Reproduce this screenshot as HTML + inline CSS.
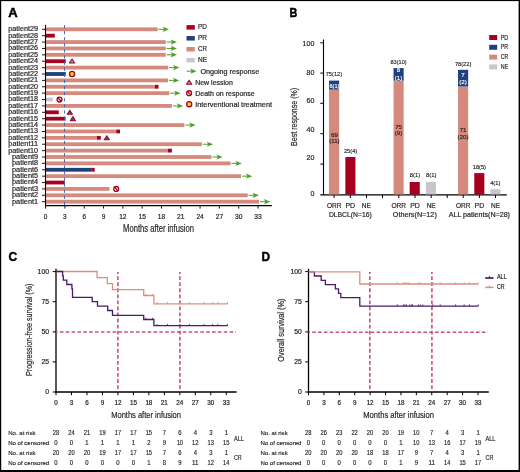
<!DOCTYPE html>
<html><head><meta charset="utf-8"><style>
html,body{margin:0;padding:0;background:#fff;}
body{width:520px;height:472px;overflow:hidden;}
svg{display:block;font-family:"Liberation Sans", sans-serif;will-change:transform;}
</style></head><body>
<svg width="520" height="472" viewBox="0 0 520 472">
<rect x="0" y="0" width="520" height="472" fill="#fff"/>
<text x="8.3" y="16.6" font-size="13" fill="#000" font-weight="bold" textLength="9.4" lengthAdjust="spacingAndGlyphs" stroke="#000" stroke-width="0.5">A</text>
<rect x="46" y="27.4" width="111.7" height="3.8" fill="#d48a7c"/>
<line x1="158.6" y1="29.3" x2="164.8" y2="29.3" stroke="#4f9e2c" stroke-width="1"/>
<path d="M169,29.3 L162.6,26.7 L164.1,29.3 L162.6,31.9 Z" fill="#4f9e2c"/>
<rect x="46" y="33.79" width="8.8" height="3.8" fill="#a8001f"/>
<rect x="46" y="40.17" width="119.7" height="3.8" fill="#d48a7c"/>
<line x1="166.6" y1="42.07" x2="172.8" y2="42.07" stroke="#4f9e2c" stroke-width="1"/>
<path d="M177,42.07 L170.6,39.47 L172.1,42.07 L170.6,44.67 Z" fill="#4f9e2c"/>
<rect x="46" y="46.55" width="119.7" height="3.8" fill="#d48a7c"/>
<line x1="166.6" y1="48.45" x2="172.8" y2="48.45" stroke="#4f9e2c" stroke-width="1"/>
<path d="M177,48.45 L170.6,45.85 L172.1,48.45 L170.6,51.05 Z" fill="#4f9e2c"/>
<rect x="46" y="52.94" width="119.7" height="3.8" fill="#d48a7c"/>
<line x1="166.6" y1="54.84" x2="172.8" y2="54.84" stroke="#4f9e2c" stroke-width="1"/>
<path d="M177,54.84 L170.6,52.24 L172.1,54.84 L170.6,57.44 Z" fill="#4f9e2c"/>
<rect x="46" y="59.32" width="19.8" height="3.8" fill="#a8001f"/>
<rect x="46" y="65.71" width="122.2" height="3.8" fill="#d48a7c"/>
<line x1="169.1" y1="67.61" x2="175.3" y2="67.61" stroke="#4f9e2c" stroke-width="1"/>
<path d="M179.5,67.61 L173.1,65.01 L174.6,67.61 L173.1,70.21 Z" fill="#4f9e2c"/>
<rect x="46" y="72.09" width="19.8" height="3.8" fill="#1f3f7d"/>
<rect x="46" y="78.48" width="122" height="3.8" fill="#d48a7c"/>
<line x1="168.9" y1="80.38" x2="175.1" y2="80.38" stroke="#4f9e2c" stroke-width="1"/>
<path d="M179.3,80.38 L172.9,77.78 L174.4,80.38 L172.9,82.98 Z" fill="#4f9e2c"/>
<rect x="46" y="84.86" width="108.8" height="3.8" fill="#d48a7c"/>
<rect x="154.8" y="84.86" width="3.7" height="3.8" fill="#a8001f"/>
<rect x="46" y="91.25" width="123.3" height="3.8" fill="#d48a7c"/>
<line x1="170.2" y1="93.15" x2="176.4" y2="93.15" stroke="#4f9e2c" stroke-width="1"/>
<path d="M180.6,93.15 L174.2,90.55 L175.7,93.15 L174.2,95.75 Z" fill="#4f9e2c"/>
<rect x="46" y="97.63" width="6.9" height="3.8" fill="#c6c6cc"/>
<rect x="46" y="104.02" width="125.9" height="3.8" fill="#d48a7c"/>
<line x1="172.8" y1="105.92" x2="179" y2="105.92" stroke="#4f9e2c" stroke-width="1"/>
<path d="M183.2,105.92 L176.8,103.32 L178.3,105.92 L176.8,108.52 Z" fill="#4f9e2c"/>
<rect x="46" y="110.4" width="12.8" height="3.8" fill="#a8001f"/>
<rect x="46" y="116.79" width="19.6" height="3.8" fill="#a8001f"/>
<rect x="46" y="123.17" width="138.4" height="3.8" fill="#d48a7c"/>
<line x1="185.3" y1="125.07" x2="191.5" y2="125.07" stroke="#4f9e2c" stroke-width="1"/>
<path d="M195.7,125.07 L189.3,122.47 L190.8,125.07 L189.3,127.67 Z" fill="#4f9e2c"/>
<rect x="46" y="129.56" width="70.2" height="3.8" fill="#d48a7c"/>
<rect x="116.2" y="129.56" width="3.8" height="3.8" fill="#a8001f"/>
<rect x="46" y="135.94" width="50.9" height="3.8" fill="#d48a7c"/>
<rect x="96.9" y="135.94" width="3.9" height="3.8" fill="#a8001f"/>
<rect x="46" y="142.33" width="155.9" height="3.8" fill="#d48a7c"/>
<line x1="202.8" y1="144.23" x2="209" y2="144.23" stroke="#4f9e2c" stroke-width="1"/>
<path d="M213.2,144.23 L206.8,141.63 L208.3,144.23 L206.8,146.83 Z" fill="#4f9e2c"/>
<rect x="46" y="148.72" width="121.8" height="3.8" fill="#d48a7c"/>
<rect x="167.8" y="148.72" width="4.1" height="3.8" fill="#a8001f"/>
<rect x="46" y="155.1" width="165.4" height="3.8" fill="#d48a7c"/>
<line x1="212.3" y1="157" x2="218.5" y2="157" stroke="#4f9e2c" stroke-width="1"/>
<path d="M222.7,157 L216.3,154.4 L217.8,157 L216.3,159.6 Z" fill="#4f9e2c"/>
<rect x="46" y="161.49" width="184.5" height="3.8" fill="#d48a7c"/>
<line x1="231.4" y1="163.39" x2="237.6" y2="163.39" stroke="#4f9e2c" stroke-width="1"/>
<path d="M241.8,163.39 L235.4,160.79 L236.9,163.39 L235.4,165.99 Z" fill="#4f9e2c"/>
<rect x="46" y="167.87" width="45.2" height="3.8" fill="#1f3f7d"/>
<rect x="91.2" y="167.87" width="3.5" height="3.8" fill="#a8001f"/>
<rect x="46" y="174.25" width="195" height="3.8" fill="#d48a7c"/>
<line x1="241.9" y1="176.16" x2="248.1" y2="176.16" stroke="#4f9e2c" stroke-width="1"/>
<path d="M252.3,176.16 L245.9,173.56 L247.4,176.16 L245.9,178.75 Z" fill="#4f9e2c"/>
<rect x="46" y="180.64" width="18.8" height="3.8" fill="#a8001f"/>
<rect x="46" y="187.03" width="63.5" height="3.8" fill="#d48a7c"/>
<rect x="46" y="193.41" width="201.7" height="3.8" fill="#d48a7c"/>
<line x1="248.6" y1="195.31" x2="254.8" y2="195.31" stroke="#4f9e2c" stroke-width="1"/>
<path d="M259,195.31 L252.6,192.71 L254.1,195.31 L252.6,197.91 Z" fill="#4f9e2c"/>
<rect x="46" y="199.79" width="213" height="3.8" fill="#d48a7c"/>
<line x1="259.9" y1="201.69" x2="266.1" y2="201.69" stroke="#4f9e2c" stroke-width="1"/>
<path d="M270.3,201.69 L263.9,199.09 L265.4,201.69 L263.9,204.29 Z" fill="#4f9e2c"/>
<line x1="64.5" y1="25" x2="64.5" y2="205.2" stroke="#3d66a8" stroke-width="0.95" stroke-dasharray="3.1 3.0"/>
<path d="M72.05,58.97 L74.7,62.97 L69.4,62.97 Z" fill="#5ab8f0" stroke="#a8001f" stroke-width="1.1" stroke-linejoin="round"/>
<circle cx="72.05" cy="74" r="2.55" fill="#f6d21c" stroke="#a8001f" stroke-width="1.3"/>
<circle cx="59.5" cy="99.53" r="2.45" fill="none" stroke="#a8001f" stroke-width="1.3"/>
<path d="M57.8,97.83 L61.2,101.23" stroke="#a8001f" stroke-width="1.3"/>
<path d="M69.8,110.2 L72.4,114.3 L67.2,114.3 Z" fill="#2a62a8" stroke="#a8001f" stroke-width="1.05" stroke-linejoin="round"/>
<path d="M72.9,116.59 L75.5,120.69 L70.3,120.69 Z" fill="#2a62a8" stroke="#a8001f" stroke-width="1.05" stroke-linejoin="round"/>
<path d="M106.8,135.75 L109.4,139.84 L104.2,139.84 Z" fill="#2a62a8" stroke="#a8001f" stroke-width="1.05" stroke-linejoin="round"/>
<circle cx="116.2" cy="188.93" r="2.45" fill="none" stroke="#a8001f" stroke-width="1.3"/>
<path d="M114.5,187.23 L117.9,190.62" stroke="#a8001f" stroke-width="1.3"/>
<line x1="45.5" y1="24.8" x2="45.5" y2="206" stroke="#000" stroke-width="1.1"/>
<line x1="45" y1="205.6" x2="271.8" y2="205.6" stroke="#000" stroke-width="1.1"/>
<line x1="42" y1="29.3" x2="45.5" y2="29.3" stroke="#000" stroke-width="0.9"/>
<text x="38.1" y="31.25" font-size="6.4" fill="#231f20" stroke="#231f20" stroke-width="0.18" text-anchor="end" textLength="29.8" lengthAdjust="spacingAndGlyphs">patient29</text>
<line x1="42" y1="35.69" x2="45.5" y2="35.69" stroke="#000" stroke-width="0.9"/>
<text x="38.1" y="37.64" font-size="6.4" fill="#231f20" stroke="#231f20" stroke-width="0.18" text-anchor="end" textLength="29.8" lengthAdjust="spacingAndGlyphs">patient28</text>
<line x1="42" y1="42.07" x2="45.5" y2="42.07" stroke="#000" stroke-width="0.9"/>
<text x="38.1" y="44.02" font-size="6.4" fill="#231f20" stroke="#231f20" stroke-width="0.18" text-anchor="end" textLength="29.8" lengthAdjust="spacingAndGlyphs">patient27</text>
<line x1="42" y1="48.45" x2="45.5" y2="48.45" stroke="#000" stroke-width="0.9"/>
<text x="38.1" y="50.41" font-size="6.4" fill="#231f20" stroke="#231f20" stroke-width="0.18" text-anchor="end" textLength="29.8" lengthAdjust="spacingAndGlyphs">patient26</text>
<line x1="42" y1="54.84" x2="45.5" y2="54.84" stroke="#000" stroke-width="0.9"/>
<text x="38.1" y="56.79" font-size="6.4" fill="#231f20" stroke="#231f20" stroke-width="0.18" text-anchor="end" textLength="29.8" lengthAdjust="spacingAndGlyphs">patient25</text>
<line x1="42" y1="61.22" x2="45.5" y2="61.22" stroke="#000" stroke-width="0.9"/>
<text x="38.1" y="63.17" font-size="6.4" fill="#231f20" stroke="#231f20" stroke-width="0.18" text-anchor="end" textLength="29.8" lengthAdjust="spacingAndGlyphs">patient24</text>
<line x1="42" y1="67.61" x2="45.5" y2="67.61" stroke="#000" stroke-width="0.9"/>
<text x="38.1" y="69.56" font-size="6.4" fill="#231f20" stroke="#231f20" stroke-width="0.18" text-anchor="end" textLength="29.8" lengthAdjust="spacingAndGlyphs">patient23</text>
<line x1="42" y1="74" x2="45.5" y2="74" stroke="#000" stroke-width="0.9"/>
<text x="38.1" y="75.95" font-size="6.4" fill="#231f20" stroke="#231f20" stroke-width="0.18" text-anchor="end" textLength="29.8" lengthAdjust="spacingAndGlyphs">patient22</text>
<line x1="42" y1="80.38" x2="45.5" y2="80.38" stroke="#000" stroke-width="0.9"/>
<text x="38.1" y="82.33" font-size="6.4" fill="#231f20" stroke="#231f20" stroke-width="0.18" text-anchor="end" textLength="29.8" lengthAdjust="spacingAndGlyphs">patient21</text>
<line x1="42" y1="86.77" x2="45.5" y2="86.77" stroke="#000" stroke-width="0.9"/>
<text x="38.1" y="88.72" font-size="6.4" fill="#231f20" stroke="#231f20" stroke-width="0.18" text-anchor="end" textLength="29.8" lengthAdjust="spacingAndGlyphs">patient20</text>
<line x1="42" y1="93.15" x2="45.5" y2="93.15" stroke="#000" stroke-width="0.9"/>
<text x="38.1" y="95.1" font-size="6.4" fill="#231f20" stroke="#231f20" stroke-width="0.18" text-anchor="end" textLength="29.8" lengthAdjust="spacingAndGlyphs">patient19</text>
<line x1="42" y1="99.53" x2="45.5" y2="99.53" stroke="#000" stroke-width="0.9"/>
<text x="38.1" y="101.48" font-size="6.4" fill="#231f20" stroke="#231f20" stroke-width="0.18" text-anchor="end" textLength="29.8" lengthAdjust="spacingAndGlyphs">patient18</text>
<line x1="42" y1="105.92" x2="45.5" y2="105.92" stroke="#000" stroke-width="0.9"/>
<text x="38.1" y="107.87" font-size="6.4" fill="#231f20" stroke="#231f20" stroke-width="0.18" text-anchor="end" textLength="29.8" lengthAdjust="spacingAndGlyphs">patient17</text>
<line x1="42" y1="112.3" x2="45.5" y2="112.3" stroke="#000" stroke-width="0.9"/>
<text x="38.1" y="114.25" font-size="6.4" fill="#231f20" stroke="#231f20" stroke-width="0.18" text-anchor="end" textLength="29.8" lengthAdjust="spacingAndGlyphs">patient16</text>
<line x1="42" y1="118.69" x2="45.5" y2="118.69" stroke="#000" stroke-width="0.9"/>
<text x="38.1" y="120.64" font-size="6.4" fill="#231f20" stroke="#231f20" stroke-width="0.18" text-anchor="end" textLength="29.8" lengthAdjust="spacingAndGlyphs">patient15</text>
<line x1="42" y1="125.07" x2="45.5" y2="125.07" stroke="#000" stroke-width="0.9"/>
<text x="38.1" y="127.02" font-size="6.4" fill="#231f20" stroke="#231f20" stroke-width="0.18" text-anchor="end" textLength="29.8" lengthAdjust="spacingAndGlyphs">patient14</text>
<line x1="42" y1="131.46" x2="45.5" y2="131.46" stroke="#000" stroke-width="0.9"/>
<text x="38.1" y="133.41" font-size="6.4" fill="#231f20" stroke="#231f20" stroke-width="0.18" text-anchor="end" textLength="29.8" lengthAdjust="spacingAndGlyphs">patient13</text>
<line x1="42" y1="137.84" x2="45.5" y2="137.84" stroke="#000" stroke-width="0.9"/>
<text x="38.1" y="139.79" font-size="6.4" fill="#231f20" stroke="#231f20" stroke-width="0.18" text-anchor="end" textLength="29.8" lengthAdjust="spacingAndGlyphs">patient12</text>
<line x1="42" y1="144.23" x2="45.5" y2="144.23" stroke="#000" stroke-width="0.9"/>
<text x="38.1" y="146.18" font-size="6.4" fill="#231f20" stroke="#231f20" stroke-width="0.18" text-anchor="end" textLength="29.8" lengthAdjust="spacingAndGlyphs">patient11</text>
<line x1="42" y1="150.62" x2="45.5" y2="150.62" stroke="#000" stroke-width="0.9"/>
<text x="38.1" y="152.56" font-size="6.4" fill="#231f20" stroke="#231f20" stroke-width="0.18" text-anchor="end" textLength="29.8" lengthAdjust="spacingAndGlyphs">patient10</text>
<line x1="42" y1="157" x2="45.5" y2="157" stroke="#000" stroke-width="0.9"/>
<text x="38.1" y="158.95" font-size="6.4" fill="#231f20" stroke="#231f20" stroke-width="0.18" text-anchor="end" textLength="26.1" lengthAdjust="spacingAndGlyphs">patient9</text>
<line x1="42" y1="163.39" x2="45.5" y2="163.39" stroke="#000" stroke-width="0.9"/>
<text x="38.1" y="165.34" font-size="6.4" fill="#231f20" stroke="#231f20" stroke-width="0.18" text-anchor="end" textLength="26.1" lengthAdjust="spacingAndGlyphs">patient8</text>
<line x1="42" y1="169.77" x2="45.5" y2="169.77" stroke="#000" stroke-width="0.9"/>
<text x="38.1" y="171.72" font-size="6.4" fill="#231f20" stroke="#231f20" stroke-width="0.18" text-anchor="end" textLength="26.1" lengthAdjust="spacingAndGlyphs">patient6</text>
<line x1="42" y1="176.16" x2="45.5" y2="176.16" stroke="#000" stroke-width="0.9"/>
<text x="38.1" y="178.1" font-size="6.4" fill="#231f20" stroke="#231f20" stroke-width="0.18" text-anchor="end" textLength="26.1" lengthAdjust="spacingAndGlyphs">patient5</text>
<line x1="42" y1="182.54" x2="45.5" y2="182.54" stroke="#000" stroke-width="0.9"/>
<text x="38.1" y="184.49" font-size="6.4" fill="#231f20" stroke="#231f20" stroke-width="0.18" text-anchor="end" textLength="26.1" lengthAdjust="spacingAndGlyphs">patient4</text>
<line x1="42" y1="188.93" x2="45.5" y2="188.93" stroke="#000" stroke-width="0.9"/>
<text x="38.1" y="190.88" font-size="6.4" fill="#231f20" stroke="#231f20" stroke-width="0.18" text-anchor="end" textLength="26.1" lengthAdjust="spacingAndGlyphs">patient3</text>
<line x1="42" y1="195.31" x2="45.5" y2="195.31" stroke="#000" stroke-width="0.9"/>
<text x="38.1" y="197.26" font-size="6.4" fill="#231f20" stroke="#231f20" stroke-width="0.18" text-anchor="end" textLength="26.1" lengthAdjust="spacingAndGlyphs">patient2</text>
<line x1="42" y1="201.69" x2="45.5" y2="201.69" stroke="#000" stroke-width="0.9"/>
<text x="38.1" y="203.64" font-size="6.4" fill="#231f20" stroke="#231f20" stroke-width="0.18" text-anchor="end" textLength="26.1" lengthAdjust="spacingAndGlyphs">patient1</text>
<line x1="45.6" y1="205.6" x2="45.6" y2="208.6" stroke="#000" stroke-width="0.9"/>
<text x="45.6" y="218.6" font-size="7.1" fill="#231f20" stroke="#231f20" stroke-width="0.2" text-anchor="middle" textLength="3.6" lengthAdjust="spacingAndGlyphs">0</text>
<line x1="64.91" y1="205.6" x2="64.91" y2="208.6" stroke="#000" stroke-width="0.9"/>
<text x="64.91" y="218.6" font-size="7.1" fill="#231f20" stroke="#231f20" stroke-width="0.2" text-anchor="middle" textLength="3.6" lengthAdjust="spacingAndGlyphs">3</text>
<line x1="84.22" y1="205.6" x2="84.22" y2="208.6" stroke="#000" stroke-width="0.9"/>
<text x="84.22" y="218.6" font-size="7.1" fill="#231f20" stroke="#231f20" stroke-width="0.2" text-anchor="middle" textLength="3.6" lengthAdjust="spacingAndGlyphs">6</text>
<line x1="103.53" y1="205.6" x2="103.53" y2="208.6" stroke="#000" stroke-width="0.9"/>
<text x="103.53" y="218.6" font-size="7.1" fill="#231f20" stroke="#231f20" stroke-width="0.2" text-anchor="middle" textLength="3.6" lengthAdjust="spacingAndGlyphs">9</text>
<line x1="122.84" y1="205.6" x2="122.84" y2="208.6" stroke="#000" stroke-width="0.9"/>
<text x="122.84" y="218.6" font-size="7.1" fill="#231f20" stroke="#231f20" stroke-width="0.2" text-anchor="middle" textLength="7.4" lengthAdjust="spacingAndGlyphs">12</text>
<line x1="142.15" y1="205.6" x2="142.15" y2="208.6" stroke="#000" stroke-width="0.9"/>
<text x="142.15" y="218.6" font-size="7.1" fill="#231f20" stroke="#231f20" stroke-width="0.2" text-anchor="middle" textLength="7.4" lengthAdjust="spacingAndGlyphs">15</text>
<line x1="161.46" y1="205.6" x2="161.46" y2="208.6" stroke="#000" stroke-width="0.9"/>
<text x="161.46" y="218.6" font-size="7.1" fill="#231f20" stroke="#231f20" stroke-width="0.2" text-anchor="middle" textLength="7.4" lengthAdjust="spacingAndGlyphs">18</text>
<line x1="180.77" y1="205.6" x2="180.77" y2="208.6" stroke="#000" stroke-width="0.9"/>
<text x="180.77" y="218.6" font-size="7.1" fill="#231f20" stroke="#231f20" stroke-width="0.2" text-anchor="middle" textLength="7.4" lengthAdjust="spacingAndGlyphs">21</text>
<line x1="200.08" y1="205.6" x2="200.08" y2="208.6" stroke="#000" stroke-width="0.9"/>
<text x="200.08" y="218.6" font-size="7.1" fill="#231f20" stroke="#231f20" stroke-width="0.2" text-anchor="middle" textLength="7.4" lengthAdjust="spacingAndGlyphs">24</text>
<line x1="219.39" y1="205.6" x2="219.39" y2="208.6" stroke="#000" stroke-width="0.9"/>
<text x="219.39" y="218.6" font-size="7.1" fill="#231f20" stroke="#231f20" stroke-width="0.2" text-anchor="middle" textLength="7.4" lengthAdjust="spacingAndGlyphs">27</text>
<line x1="238.7" y1="205.6" x2="238.7" y2="208.6" stroke="#000" stroke-width="0.9"/>
<text x="238.7" y="218.6" font-size="7.1" fill="#231f20" stroke="#231f20" stroke-width="0.2" text-anchor="middle" textLength="7.4" lengthAdjust="spacingAndGlyphs">30</text>
<line x1="258.01" y1="205.6" x2="258.01" y2="208.6" stroke="#000" stroke-width="0.9"/>
<text x="258.01" y="218.6" font-size="7.1" fill="#231f20" stroke="#231f20" stroke-width="0.2" text-anchor="middle" textLength="7.4" lengthAdjust="spacingAndGlyphs">33</text>
<text x="123.1" y="231.7" font-size="10.4" fill="#231f20" stroke="#231f20" stroke-width="0.2" textLength="70.9" lengthAdjust="spacingAndGlyphs">Months after infusion</text>
<rect x="186.5" y="25.1" width="8.3" height="4.5" fill="#a8001f"/>
<text x="198" y="29.45" font-size="7.2" fill="#231f20" stroke="#231f20" stroke-width="0.2" textLength="9" lengthAdjust="spacingAndGlyphs">PD</text>
<rect x="186.5" y="36.05" width="8.3" height="4.5" fill="#1f3f7d"/>
<text x="198" y="40.4" font-size="7.2" fill="#231f20" stroke="#231f20" stroke-width="0.2" textLength="9" lengthAdjust="spacingAndGlyphs">PR</text>
<rect x="186.5" y="47" width="8.3" height="4.5" fill="#d48a7c"/>
<text x="198" y="51.35" font-size="7.2" fill="#231f20" stroke="#231f20" stroke-width="0.2" textLength="9" lengthAdjust="spacingAndGlyphs">CR</text>
<rect x="186.5" y="57.95" width="8.3" height="4.5" fill="#c6c6cc"/>
<text x="198" y="62.3" font-size="7.2" fill="#231f20" stroke="#231f20" stroke-width="0.2" textLength="9" lengthAdjust="spacingAndGlyphs">NE</text>
<line x1="186.6" y1="71.2" x2="192.4" y2="71.2" stroke="#4f9e2c" stroke-width="1"/>
<path d="M196.6,71.2 L190.2,68.6 L191.7,71.2 L190.2,73.8 Z" fill="#4f9e2c"/>
<text x="200.4" y="73.6" font-size="7.2" fill="#231f20" stroke="#231f20" stroke-width="0.2" textLength="58.8" lengthAdjust="spacingAndGlyphs">Ongoing response</text>
<path d="M189.1,80.2 L191.75,84.2 L186.45,84.2 Z" fill="#5ab8f0" stroke="#a8001f" stroke-width="1.1" stroke-linejoin="round"/>
<text x="195.2" y="84.6" font-size="7.2" fill="#231f20" stroke="#231f20" stroke-width="0.2" textLength="37.6" lengthAdjust="spacingAndGlyphs">New lession</text>
<circle cx="189.1" cy="93.2" r="2.45" fill="none" stroke="#a8001f" stroke-width="1.3"/>
<path d="M187.4,91.5 L190.8,94.9" stroke="#a8001f" stroke-width="1.3"/>
<text x="195.2" y="95.6" font-size="7.2" fill="#231f20" stroke="#231f20" stroke-width="0.2" textLength="59.5" lengthAdjust="spacingAndGlyphs">Death on response</text>
<circle cx="189.2" cy="104.2" r="2.55" fill="#f6d21c" stroke="#a8001f" stroke-width="1.3"/>
<text x="195.2" y="106.6" font-size="7.2" fill="#231f20" stroke="#231f20" stroke-width="0.2" textLength="76.8" lengthAdjust="spacingAndGlyphs">Interventional treatment</text>
<text x="289.6" y="16.7" font-size="13" fill="#000" font-weight="bold" textLength="7.8" lengthAdjust="spacingAndGlyphs" stroke="#000" stroke-width="0.5">B</text>
<line x1="323.5" y1="39.5" x2="323.5" y2="195" stroke="#000" stroke-width="1.1"/>
<line x1="320.3" y1="194.85" x2="506.8" y2="194.85" stroke="#000" stroke-width="1.1"/>
<line x1="320.3" y1="42.8" x2="323.5" y2="42.8" stroke="#000" stroke-width="1"/>
<line x1="320.3" y1="73.1" x2="323.5" y2="73.1" stroke="#000" stroke-width="1"/>
<line x1="320.3" y1="103.3" x2="323.5" y2="103.3" stroke="#000" stroke-width="1"/>
<line x1="320.3" y1="133.7" x2="323.5" y2="133.7" stroke="#000" stroke-width="1"/>
<line x1="320.3" y1="164.1" x2="323.5" y2="164.1" stroke="#000" stroke-width="1"/>
<text x="314.4" y="46.25" font-size="7.6" fill="#231f20" stroke="#231f20" stroke-width="0.2" text-anchor="end" textLength="11.85" lengthAdjust="spacingAndGlyphs">100</text>
<text x="314.4" y="74.75" font-size="7.6" fill="#231f20" stroke="#231f20" stroke-width="0.2" text-anchor="end" textLength="7.9" lengthAdjust="spacingAndGlyphs">80</text>
<text x="314.4" y="103.05" font-size="7.6" fill="#231f20" stroke="#231f20" stroke-width="0.2" text-anchor="end" textLength="7.9" lengthAdjust="spacingAndGlyphs">60</text>
<text x="314.4" y="131.65" font-size="7.6" fill="#231f20" stroke="#231f20" stroke-width="0.2" text-anchor="end" textLength="7.9" lengthAdjust="spacingAndGlyphs">40</text>
<text x="314.4" y="159.85" font-size="7.6" fill="#231f20" stroke="#231f20" stroke-width="0.2" text-anchor="end" textLength="7.9" lengthAdjust="spacingAndGlyphs">20</text>
<text x="314.4" y="195.55" font-size="7.6" fill="#231f20" stroke="#231f20" stroke-width="0.2" text-anchor="end" textLength="3.95" lengthAdjust="spacingAndGlyphs">0</text>
<text x="0" y="0" font-size="9.4" fill="#231f20" stroke="#231f20" stroke-width="0.2" text-anchor="middle" textLength="58.2" lengthAdjust="spacingAndGlyphs" transform="translate(297.1,116.9) rotate(-90)">Best response (%)</text>
<line x1="334.1" y1="194.8" x2="334.1" y2="198" stroke="#000" stroke-width="1"/>
<line x1="350.3" y1="194.8" x2="350.3" y2="198" stroke="#000" stroke-width="1"/>
<line x1="366.5" y1="194.8" x2="366.5" y2="198" stroke="#000" stroke-width="1"/>
<line x1="382.5" y1="194.8" x2="382.5" y2="198" stroke="#000" stroke-width="1"/>
<line x1="398.8" y1="194.8" x2="398.8" y2="198" stroke="#000" stroke-width="1"/>
<line x1="415" y1="194.8" x2="415" y2="198" stroke="#000" stroke-width="1"/>
<line x1="431.2" y1="194.8" x2="431.2" y2="198" stroke="#000" stroke-width="1"/>
<line x1="447.2" y1="194.8" x2="447.2" y2="198" stroke="#000" stroke-width="1"/>
<line x1="463.2" y1="194.8" x2="463.2" y2="198" stroke="#000" stroke-width="1"/>
<line x1="479.4" y1="194.8" x2="479.4" y2="198" stroke="#000" stroke-width="1"/>
<line x1="495.5" y1="194.8" x2="495.5" y2="198" stroke="#000" stroke-width="1"/>
<rect x="329.05" y="89.6" width="10.1" height="104.8" fill="#d48a7c"/>
<rect x="329.05" y="80.6" width="10.1" height="9" fill="#1f3f7d"/>
<rect x="345.35" y="157" width="10.1" height="37.4" fill="#a8001f"/>
<rect x="393.55" y="80.6" width="10.1" height="113.8" fill="#d48a7c"/>
<rect x="393.55" y="68.1" width="10.1" height="12.5" fill="#1f3f7d"/>
<rect x="409.65" y="182" width="10.1" height="12.4" fill="#a8001f"/>
<rect x="425.85" y="182" width="10.1" height="12.4" fill="#c6c6cc"/>
<rect x="458.05" y="86.4" width="10.1" height="108" fill="#d48a7c"/>
<rect x="458.05" y="69.8" width="10.1" height="16.6" fill="#1f3f7d"/>
<rect x="474.25" y="173.1" width="10.1" height="21.3" fill="#a8001f"/>
<rect x="490.35" y="189.2" width="10.1" height="5.2" fill="#c6c6cc"/>
<text x="333.9" y="76.23" font-size="6.2" fill="#231f20" stroke="#231f20" stroke-width="0.15" text-anchor="middle" textLength="16.4" lengthAdjust="spacingAndGlyphs">75(12)</text>
<text x="334.4" y="87.73" font-size="6.2" fill="#fff" stroke="#fff" stroke-width="0.15" text-anchor="middle" textLength="10" lengthAdjust="spacingAndGlyphs">6(1)</text>
<text x="334.4" y="136.83" font-size="6.2" fill="#231f20" stroke="#231f20" stroke-width="0.15" text-anchor="middle">69</text>
<text x="334.4" y="142.83" font-size="6.2" fill="#231f20" stroke="#231f20" stroke-width="0.15" text-anchor="middle">(11)</text>
<text x="350.6" y="152.93" font-size="6.2" fill="#231f20" stroke="#231f20" stroke-width="0.15" text-anchor="middle" textLength="13.4" lengthAdjust="spacingAndGlyphs">25(4)</text>
<text x="398.6" y="63.63" font-size="6.2" fill="#231f20" stroke="#231f20" stroke-width="0.15" text-anchor="middle" textLength="16.2" lengthAdjust="spacingAndGlyphs">83(10)</text>
<text x="398.6" y="72.23" font-size="6.2" fill="#fff" stroke="#fff" stroke-width="0.15" text-anchor="middle">8</text>
<text x="398.6" y="79.63" font-size="6.2" fill="#fff" stroke="#fff" stroke-width="0.15" text-anchor="middle">(1)</text>
<text x="398.6" y="128.53" font-size="6.2" fill="#231f20" stroke="#231f20" stroke-width="0.15" text-anchor="middle">75</text>
<text x="398.6" y="135.03" font-size="6.2" fill="#231f20" stroke="#231f20" stroke-width="0.15" text-anchor="middle">(9)</text>
<text x="415" y="177.23" font-size="6.2" fill="#231f20" stroke="#231f20" stroke-width="0.15" text-anchor="middle" textLength="10.4" lengthAdjust="spacingAndGlyphs">8(1)</text>
<text x="431.2" y="177.23" font-size="6.2" fill="#231f20" stroke="#231f20" stroke-width="0.15" text-anchor="middle" textLength="10.4" lengthAdjust="spacingAndGlyphs">8(1)</text>
<text x="463.1" y="65.73" font-size="6.2" fill="#231f20" stroke="#231f20" stroke-width="0.15" text-anchor="middle" textLength="16.4" lengthAdjust="spacingAndGlyphs">78(22)</text>
<text x="463.1" y="76.63" font-size="6.2" fill="#fff" stroke="#fff" stroke-width="0.15" text-anchor="middle">7</text>
<text x="463.1" y="83.93" font-size="6.2" fill="#fff" stroke="#fff" stroke-width="0.15" text-anchor="middle">(2)</text>
<text x="463.1" y="131.53" font-size="6.2" fill="#231f20" stroke="#231f20" stroke-width="0.15" text-anchor="middle">71</text>
<text x="463.1" y="138.73" font-size="6.2" fill="#231f20" stroke="#231f20" stroke-width="0.15" text-anchor="middle">(20)</text>
<text x="479.4" y="168.53" font-size="6.2" fill="#231f20" stroke="#231f20" stroke-width="0.15" text-anchor="middle" textLength="13.2" lengthAdjust="spacingAndGlyphs">18(5)</text>
<text x="495.3" y="185.13" font-size="6.2" fill="#231f20" stroke="#231f20" stroke-width="0.15" text-anchor="middle" textLength="10.2" lengthAdjust="spacingAndGlyphs">4(1)</text>
<text x="334.2" y="207.8" font-size="7.6" fill="#231f20" stroke="#231f20" stroke-width="0.2" text-anchor="middle" textLength="14.6" lengthAdjust="spacingAndGlyphs">ORR</text>
<text x="350.3" y="207.8" font-size="7.6" fill="#231f20" stroke="#231f20" stroke-width="0.2" text-anchor="middle" textLength="9.7" lengthAdjust="spacingAndGlyphs">PD</text>
<text x="366.3" y="207.8" font-size="7.6" fill="#231f20" stroke="#231f20" stroke-width="0.2" text-anchor="middle" textLength="9" lengthAdjust="spacingAndGlyphs">NE</text>
<text x="398.8" y="207.8" font-size="7.6" fill="#231f20" stroke="#231f20" stroke-width="0.2" text-anchor="middle" textLength="14.6" lengthAdjust="spacingAndGlyphs">ORR</text>
<text x="415" y="207.8" font-size="7.6" fill="#231f20" stroke="#231f20" stroke-width="0.2" text-anchor="middle" textLength="9.7" lengthAdjust="spacingAndGlyphs">PD</text>
<text x="431.2" y="207.8" font-size="7.6" fill="#231f20" stroke="#231f20" stroke-width="0.2" text-anchor="middle" textLength="9" lengthAdjust="spacingAndGlyphs">NE</text>
<text x="463.2" y="207.8" font-size="7.6" fill="#231f20" stroke="#231f20" stroke-width="0.2" text-anchor="middle" textLength="14.6" lengthAdjust="spacingAndGlyphs">ORR</text>
<text x="479.4" y="207.8" font-size="7.6" fill="#231f20" stroke="#231f20" stroke-width="0.2" text-anchor="middle" textLength="9.7" lengthAdjust="spacingAndGlyphs">PD</text>
<text x="495.5" y="207.8" font-size="7.6" fill="#231f20" stroke="#231f20" stroke-width="0.2" text-anchor="middle" textLength="9" lengthAdjust="spacingAndGlyphs">NE</text>
<text x="328.9" y="216.8" font-size="7.5" fill="#231f20" stroke="#231f20" stroke-width="0.2" textLength="42.9" lengthAdjust="spacingAndGlyphs">DLBCL(N=16)</text>
<text x="392.8" y="216.8" font-size="7.5" fill="#231f20" stroke="#231f20" stroke-width="0.2" textLength="44" lengthAdjust="spacingAndGlyphs">Others(N=12)</text>
<text x="448.7" y="216.8" font-size="7.5" fill="#231f20" stroke="#231f20" stroke-width="0.2" textLength="61.3" lengthAdjust="spacingAndGlyphs">ALL patients(N=28)</text>
<rect x="489.2" y="35" width="8" height="5" fill="#a8001f"/>
<text x="500.8" y="39.5" font-size="7" fill="#231f20" stroke="#231f20" stroke-width="0.2" textLength="7.4" lengthAdjust="spacingAndGlyphs">PD</text>
<rect x="489.2" y="44.8" width="8" height="5" fill="#1f3f7d"/>
<text x="500.8" y="49.3" font-size="7" fill="#231f20" stroke="#231f20" stroke-width="0.2" textLength="7.4" lengthAdjust="spacingAndGlyphs">PR</text>
<rect x="489.2" y="54.6" width="8" height="5" fill="#d48a7c"/>
<text x="500.8" y="59.1" font-size="7" fill="#231f20" stroke="#231f20" stroke-width="0.2" textLength="7.4" lengthAdjust="spacingAndGlyphs">CR</text>
<rect x="489.2" y="64.4" width="8" height="5" fill="#c6c6cc"/>
<text x="500.8" y="68.9" font-size="7" fill="#231f20" stroke="#231f20" stroke-width="0.2" textLength="7.4" lengthAdjust="spacingAndGlyphs">NE</text>
<text x="8.4" y="261.3" font-size="13" fill="#000" font-weight="bold" textLength="8.6" lengthAdjust="spacingAndGlyphs" stroke="#000" stroke-width="0.5">C</text>
<line x1="56" y1="268.8" x2="56" y2="392.6" stroke="#000" stroke-width="1.3"/>
<line x1="55.4" y1="392" x2="236.6" y2="392" stroke="#000" stroke-width="1.3"/>
<line x1="52.7" y1="271.6" x2="56" y2="271.6" stroke="#000" stroke-width="1"/>
<text x="49" y="274" font-size="6.8" fill="#231f20" stroke="#231f20" stroke-width="0.2" text-anchor="end" textLength="11.4" lengthAdjust="spacingAndGlyphs">100</text>
<line x1="52.7" y1="301.7" x2="56" y2="301.7" stroke="#000" stroke-width="1"/>
<text x="49" y="304.1" font-size="6.8" fill="#231f20" stroke="#231f20" stroke-width="0.2" text-anchor="end" textLength="7.6" lengthAdjust="spacingAndGlyphs">75</text>
<line x1="52.7" y1="331.9" x2="56" y2="331.9" stroke="#000" stroke-width="1"/>
<text x="49" y="334.3" font-size="6.8" fill="#231f20" stroke="#231f20" stroke-width="0.2" text-anchor="end" textLength="7.6" lengthAdjust="spacingAndGlyphs">50</text>
<line x1="52.7" y1="361.9" x2="56" y2="361.9" stroke="#000" stroke-width="1"/>
<text x="49" y="364.3" font-size="6.8" fill="#231f20" stroke="#231f20" stroke-width="0.2" text-anchor="end" textLength="7.6" lengthAdjust="spacingAndGlyphs">25</text>
<line x1="52.7" y1="392" x2="56" y2="392" stroke="#000" stroke-width="1"/>
<text x="49" y="394.4" font-size="6.8" fill="#231f20" stroke="#231f20" stroke-width="0.2" text-anchor="end" textLength="3.8" lengthAdjust="spacingAndGlyphs">0</text>
<line x1="56" y1="392" x2="56" y2="395.2" stroke="#000" stroke-width="1"/>
<text x="56" y="404.6" font-size="6.3" fill="#231f20" stroke="#231f20" stroke-width="0.2" text-anchor="middle" textLength="3.5" lengthAdjust="spacingAndGlyphs">0</text>
<line x1="71.48" y1="392" x2="71.48" y2="395.2" stroke="#000" stroke-width="1"/>
<text x="71.48" y="404.6" font-size="6.3" fill="#231f20" stroke="#231f20" stroke-width="0.2" text-anchor="middle" textLength="3.5" lengthAdjust="spacingAndGlyphs">3</text>
<line x1="86.96" y1="392" x2="86.96" y2="395.2" stroke="#000" stroke-width="1"/>
<text x="86.96" y="404.6" font-size="6.3" fill="#231f20" stroke="#231f20" stroke-width="0.2" text-anchor="middle" textLength="3.5" lengthAdjust="spacingAndGlyphs">6</text>
<line x1="102.44" y1="392" x2="102.44" y2="395.2" stroke="#000" stroke-width="1"/>
<text x="102.44" y="404.6" font-size="6.3" fill="#231f20" stroke="#231f20" stroke-width="0.2" text-anchor="middle" textLength="3.5" lengthAdjust="spacingAndGlyphs">9</text>
<line x1="117.92" y1="392" x2="117.92" y2="395.2" stroke="#000" stroke-width="1"/>
<text x="117.92" y="404.6" font-size="6.3" fill="#231f20" stroke="#231f20" stroke-width="0.2" text-anchor="middle" textLength="7" lengthAdjust="spacingAndGlyphs">12</text>
<line x1="133.4" y1="392" x2="133.4" y2="395.2" stroke="#000" stroke-width="1"/>
<text x="133.4" y="404.6" font-size="6.3" fill="#231f20" stroke="#231f20" stroke-width="0.2" text-anchor="middle" textLength="7" lengthAdjust="spacingAndGlyphs">15</text>
<line x1="148.88" y1="392" x2="148.88" y2="395.2" stroke="#000" stroke-width="1"/>
<text x="148.88" y="404.6" font-size="6.3" fill="#231f20" stroke="#231f20" stroke-width="0.2" text-anchor="middle" textLength="7" lengthAdjust="spacingAndGlyphs">18</text>
<line x1="164.36" y1="392" x2="164.36" y2="395.2" stroke="#000" stroke-width="1"/>
<text x="164.36" y="404.6" font-size="6.3" fill="#231f20" stroke="#231f20" stroke-width="0.2" text-anchor="middle" textLength="7" lengthAdjust="spacingAndGlyphs">21</text>
<line x1="179.84" y1="392" x2="179.84" y2="395.2" stroke="#000" stroke-width="1"/>
<text x="179.84" y="404.6" font-size="6.3" fill="#231f20" stroke="#231f20" stroke-width="0.2" text-anchor="middle" textLength="7" lengthAdjust="spacingAndGlyphs">24</text>
<line x1="195.32" y1="392" x2="195.32" y2="395.2" stroke="#000" stroke-width="1"/>
<text x="195.32" y="404.6" font-size="6.3" fill="#231f20" stroke="#231f20" stroke-width="0.2" text-anchor="middle" textLength="7" lengthAdjust="spacingAndGlyphs">27</text>
<line x1="210.8" y1="392" x2="210.8" y2="395.2" stroke="#000" stroke-width="1"/>
<text x="210.8" y="404.6" font-size="6.3" fill="#231f20" stroke="#231f20" stroke-width="0.2" text-anchor="middle" textLength="7" lengthAdjust="spacingAndGlyphs">30</text>
<line x1="226.28" y1="392" x2="226.28" y2="395.2" stroke="#000" stroke-width="1"/>
<text x="226.28" y="404.6" font-size="6.3" fill="#231f20" stroke="#231f20" stroke-width="0.2" text-anchor="middle" textLength="7" lengthAdjust="spacingAndGlyphs">33</text>
<text x="111.2" y="417.8" font-size="9.8" fill="#231f20" stroke="#231f20" stroke-width="0.2" textLength="69.8" lengthAdjust="spacingAndGlyphs">Months after infusion</text>
<text x="0" y="0" font-size="9.4" fill="#231f20" stroke="#231f20" stroke-width="0.2" text-anchor="middle" textLength="92.4" lengthAdjust="spacingAndGlyphs" transform="translate(31.6,329.8) rotate(-90)">Progression-free survival (%)</text>
<line x1="56" y1="332" x2="236" y2="332" stroke="#cd4f76" stroke-width="1.6" stroke-dasharray="3.6 2.25" stroke-dashoffset="1.95"/>
<line x1="117.9" y1="271.9" x2="117.9" y2="391.5" stroke="#cd4f76" stroke-width="1.6" stroke-dasharray="3.8 2.25" stroke-dashoffset="1.7"/>
<line x1="179.9" y1="271.9" x2="179.9" y2="391.5" stroke="#cd4f76" stroke-width="1.6" stroke-dasharray="3.8 2.25" stroke-dashoffset="1.7"/>
<path d="M56,271.5 L97.1,271.5 L97.1,277.6 L107.3,277.6 L107.3,283.6 L112.5,283.6 L112.5,289.7 L143.7,289.7 L143.7,295.5 L153.9,295.5 L153.9,303.8 L227.6,303.8" fill="none" stroke="#dc8e7e" stroke-width="1.3" stroke-linejoin="miter"/>
<line x1="145.8" y1="293.7" x2="145.8" y2="295.5" stroke="#dc8e7e" stroke-width="0.8"/>
<line x1="152.5" y1="293.7" x2="152.5" y2="295.5" stroke="#dc8e7e" stroke-width="0.8"/>
<line x1="157" y1="302" x2="157" y2="303.8" stroke="#dc8e7e" stroke-width="0.8"/>
<line x1="167.5" y1="302" x2="167.5" y2="303.8" stroke="#dc8e7e" stroke-width="0.8"/>
<line x1="180" y1="302" x2="180" y2="303.8" stroke="#dc8e7e" stroke-width="0.8"/>
<line x1="189.4" y1="302" x2="189.4" y2="303.8" stroke="#dc8e7e" stroke-width="0.8"/>
<line x1="204" y1="302" x2="204" y2="303.8" stroke="#dc8e7e" stroke-width="0.8"/>
<line x1="212.7" y1="302" x2="212.7" y2="303.8" stroke="#dc8e7e" stroke-width="0.8"/>
<line x1="217.9" y1="302" x2="217.9" y2="303.8" stroke="#dc8e7e" stroke-width="0.8"/>
<line x1="227.5" y1="302" x2="227.5" y2="303.8" stroke="#dc8e7e" stroke-width="0.8"/>
<path d="M56,271.5 L62.6,271.5 L62.6,275.8 L63.3,275.8 L63.3,280.2 L66.8,280.2 L66.8,284.5 L71.9,284.5 L71.9,288.8 L72.5,288.8 L72.5,297.4 L92.2,297.4 L92.2,301.7 L97.5,301.7 L97.5,306.1 L107.7,306.1 L107.7,310.5 L112.5,310.5 L112.5,315.3 L143.7,315.3 L143.7,319.5 L153.9,319.5 L153.9,325.7 L227.6,325.7" fill="none" stroke="#4a1a6c" stroke-width="1.3" stroke-linejoin="miter"/>
<line x1="145.8" y1="317.7" x2="145.8" y2="319.5" stroke="#4a1a6c" stroke-width="0.8"/>
<line x1="152.5" y1="317.7" x2="152.5" y2="319.5" stroke="#4a1a6c" stroke-width="0.8"/>
<line x1="157" y1="323.9" x2="157" y2="325.7" stroke="#4a1a6c" stroke-width="0.8"/>
<line x1="167.5" y1="323.9" x2="167.5" y2="325.7" stroke="#4a1a6c" stroke-width="0.8"/>
<line x1="180" y1="323.9" x2="180" y2="325.7" stroke="#4a1a6c" stroke-width="0.8"/>
<line x1="189.4" y1="323.9" x2="189.4" y2="325.7" stroke="#4a1a6c" stroke-width="0.8"/>
<line x1="204" y1="323.9" x2="204" y2="325.7" stroke="#4a1a6c" stroke-width="0.8"/>
<line x1="212.7" y1="323.9" x2="212.7" y2="325.7" stroke="#4a1a6c" stroke-width="0.8"/>
<line x1="217.9" y1="323.9" x2="217.9" y2="325.7" stroke="#4a1a6c" stroke-width="0.8"/>
<line x1="227.5" y1="323.9" x2="227.5" y2="325.7" stroke="#4a1a6c" stroke-width="0.8"/>
<text x="261.5" y="261.3" font-size="13" fill="#000" font-weight="bold" textLength="8.6" lengthAdjust="spacingAndGlyphs" stroke="#000" stroke-width="0.5">D</text>
<line x1="308.5" y1="268.8" x2="308.5" y2="392.6" stroke="#000" stroke-width="1.3"/>
<line x1="307.9" y1="392" x2="488.8" y2="392" stroke="#000" stroke-width="1.3"/>
<line x1="305.2" y1="271.6" x2="308.5" y2="271.6" stroke="#000" stroke-width="1"/>
<text x="301.9" y="274" font-size="6.8" fill="#231f20" stroke="#231f20" stroke-width="0.2" text-anchor="end" textLength="11.4" lengthAdjust="spacingAndGlyphs">100</text>
<line x1="305.2" y1="301.7" x2="308.5" y2="301.7" stroke="#000" stroke-width="1"/>
<text x="301.9" y="304.1" font-size="6.8" fill="#231f20" stroke="#231f20" stroke-width="0.2" text-anchor="end" textLength="7.6" lengthAdjust="spacingAndGlyphs">75</text>
<line x1="305.2" y1="331.9" x2="308.5" y2="331.9" stroke="#000" stroke-width="1"/>
<text x="301.9" y="334.3" font-size="6.8" fill="#231f20" stroke="#231f20" stroke-width="0.2" text-anchor="end" textLength="7.6" lengthAdjust="spacingAndGlyphs">50</text>
<line x1="305.2" y1="361.9" x2="308.5" y2="361.9" stroke="#000" stroke-width="1"/>
<text x="301.9" y="364.3" font-size="6.8" fill="#231f20" stroke="#231f20" stroke-width="0.2" text-anchor="end" textLength="7.6" lengthAdjust="spacingAndGlyphs">25</text>
<line x1="305.2" y1="392" x2="308.5" y2="392" stroke="#000" stroke-width="1"/>
<text x="301.9" y="394.4" font-size="6.8" fill="#231f20" stroke="#231f20" stroke-width="0.2" text-anchor="end" textLength="3.8" lengthAdjust="spacingAndGlyphs">0</text>
<line x1="308.5" y1="392" x2="308.5" y2="395.2" stroke="#000" stroke-width="1"/>
<text x="308.5" y="404.6" font-size="6.3" fill="#231f20" stroke="#231f20" stroke-width="0.2" text-anchor="middle" textLength="3.5" lengthAdjust="spacingAndGlyphs">0</text>
<line x1="323.91" y1="392" x2="323.91" y2="395.2" stroke="#000" stroke-width="1"/>
<text x="323.91" y="404.6" font-size="6.3" fill="#231f20" stroke="#231f20" stroke-width="0.2" text-anchor="middle" textLength="3.5" lengthAdjust="spacingAndGlyphs">3</text>
<line x1="339.32" y1="392" x2="339.32" y2="395.2" stroke="#000" stroke-width="1"/>
<text x="339.32" y="404.6" font-size="6.3" fill="#231f20" stroke="#231f20" stroke-width="0.2" text-anchor="middle" textLength="3.5" lengthAdjust="spacingAndGlyphs">6</text>
<line x1="354.73" y1="392" x2="354.73" y2="395.2" stroke="#000" stroke-width="1"/>
<text x="354.73" y="404.6" font-size="6.3" fill="#231f20" stroke="#231f20" stroke-width="0.2" text-anchor="middle" textLength="3.5" lengthAdjust="spacingAndGlyphs">9</text>
<line x1="370.14" y1="392" x2="370.14" y2="395.2" stroke="#000" stroke-width="1"/>
<text x="370.14" y="404.6" font-size="6.3" fill="#231f20" stroke="#231f20" stroke-width="0.2" text-anchor="middle" textLength="7" lengthAdjust="spacingAndGlyphs">12</text>
<line x1="385.55" y1="392" x2="385.55" y2="395.2" stroke="#000" stroke-width="1"/>
<text x="385.55" y="404.6" font-size="6.3" fill="#231f20" stroke="#231f20" stroke-width="0.2" text-anchor="middle" textLength="7" lengthAdjust="spacingAndGlyphs">15</text>
<line x1="400.96" y1="392" x2="400.96" y2="395.2" stroke="#000" stroke-width="1"/>
<text x="400.96" y="404.6" font-size="6.3" fill="#231f20" stroke="#231f20" stroke-width="0.2" text-anchor="middle" textLength="7" lengthAdjust="spacingAndGlyphs">18</text>
<line x1="416.37" y1="392" x2="416.37" y2="395.2" stroke="#000" stroke-width="1"/>
<text x="416.37" y="404.6" font-size="6.3" fill="#231f20" stroke="#231f20" stroke-width="0.2" text-anchor="middle" textLength="7" lengthAdjust="spacingAndGlyphs">21</text>
<line x1="431.78" y1="392" x2="431.78" y2="395.2" stroke="#000" stroke-width="1"/>
<text x="431.78" y="404.6" font-size="6.3" fill="#231f20" stroke="#231f20" stroke-width="0.2" text-anchor="middle" textLength="7" lengthAdjust="spacingAndGlyphs">24</text>
<line x1="447.19" y1="392" x2="447.19" y2="395.2" stroke="#000" stroke-width="1"/>
<text x="447.19" y="404.6" font-size="6.3" fill="#231f20" stroke="#231f20" stroke-width="0.2" text-anchor="middle" textLength="7" lengthAdjust="spacingAndGlyphs">27</text>
<line x1="462.6" y1="392" x2="462.6" y2="395.2" stroke="#000" stroke-width="1"/>
<text x="462.6" y="404.6" font-size="6.3" fill="#231f20" stroke="#231f20" stroke-width="0.2" text-anchor="middle" textLength="7" lengthAdjust="spacingAndGlyphs">30</text>
<line x1="478.01" y1="392" x2="478.01" y2="395.2" stroke="#000" stroke-width="1"/>
<text x="478.01" y="404.6" font-size="6.3" fill="#231f20" stroke="#231f20" stroke-width="0.2" text-anchor="middle" textLength="7" lengthAdjust="spacingAndGlyphs">33</text>
<text x="363.2" y="417.8" font-size="9.8" fill="#231f20" stroke="#231f20" stroke-width="0.2" textLength="70.8" lengthAdjust="spacingAndGlyphs">Months after infusion</text>
<text x="0" y="0" font-size="9.4" fill="#231f20" stroke="#231f20" stroke-width="0.2" text-anchor="middle" textLength="62.9" lengthAdjust="spacingAndGlyphs" transform="translate(284.4,330.2) rotate(-90)">Overall survival (%)</text>
<line x1="308.5" y1="332.2" x2="488" y2="332.2" stroke="#cd4f76" stroke-width="1.6" stroke-dasharray="3.6 2.25" stroke-dashoffset="2.15"/>
<line x1="369.8" y1="271.9" x2="369.8" y2="391.5" stroke="#cd4f76" stroke-width="1.6" stroke-dasharray="3.8 2.25" stroke-dashoffset="1.7"/>
<line x1="431.9" y1="271.9" x2="431.9" y2="391.5" stroke="#cd4f76" stroke-width="1.6" stroke-dasharray="3.8 2.25" stroke-dashoffset="1.7"/>
<path d="M308.5,271.8 L314.4,271.8 L314.4,276 L321.2,276 L321.2,280.3 L325.4,280.3 L325.4,284.6 L335.4,284.6 L335.4,288.9 L338.5,288.9 L338.5,293.3 L340.8,293.3 L340.8,297.6 L359.8,297.6 L359.8,306.1 L478.3,306.1" fill="none" stroke="#4a1a6c" stroke-width="1.3" stroke-linejoin="miter"/>
<line x1="397.2" y1="304.3" x2="397.2" y2="306.1" stroke="#4a1a6c" stroke-width="0.8"/>
<line x1="403.5" y1="304.3" x2="403.5" y2="306.1" stroke="#4a1a6c" stroke-width="0.8"/>
<line x1="404.9" y1="304.3" x2="404.9" y2="306.1" stroke="#4a1a6c" stroke-width="0.8"/>
<line x1="406.5" y1="304.3" x2="406.5" y2="306.1" stroke="#4a1a6c" stroke-width="0.8"/>
<line x1="409.7" y1="304.3" x2="409.7" y2="306.1" stroke="#4a1a6c" stroke-width="0.8"/>
<line x1="411.6" y1="304.3" x2="411.6" y2="306.1" stroke="#4a1a6c" stroke-width="0.8"/>
<line x1="412.6" y1="304.3" x2="412.6" y2="306.1" stroke="#4a1a6c" stroke-width="0.8"/>
<line x1="418.4" y1="304.3" x2="418.4" y2="306.1" stroke="#4a1a6c" stroke-width="0.8"/>
<line x1="420.3" y1="304.3" x2="420.3" y2="306.1" stroke="#4a1a6c" stroke-width="0.8"/>
<line x1="422.7" y1="304.3" x2="422.7" y2="306.1" stroke="#4a1a6c" stroke-width="0.8"/>
<line x1="432.8" y1="304.3" x2="432.8" y2="306.1" stroke="#4a1a6c" stroke-width="0.8"/>
<line x1="440.2" y1="304.3" x2="440.2" y2="306.1" stroke="#4a1a6c" stroke-width="0.8"/>
<line x1="455.6" y1="304.3" x2="455.6" y2="306.1" stroke="#4a1a6c" stroke-width="0.8"/>
<line x1="464.2" y1="304.3" x2="464.2" y2="306.1" stroke="#4a1a6c" stroke-width="0.8"/>
<line x1="469.6" y1="304.3" x2="469.6" y2="306.1" stroke="#4a1a6c" stroke-width="0.8"/>
<line x1="478.3" y1="304.3" x2="478.3" y2="306.1" stroke="#4a1a6c" stroke-width="0.8"/>
<path d="M308.5,271.8 L359.8,271.8 L359.8,284 L478.3,284" fill="none" stroke="#dc8e7e" stroke-width="1.3" stroke-linejoin="miter"/>
<line x1="397.2" y1="282.2" x2="397.2" y2="284" stroke="#dc8e7e" stroke-width="0.8"/>
<line x1="403.5" y1="282.2" x2="403.5" y2="284" stroke="#dc8e7e" stroke-width="0.8"/>
<line x1="404.9" y1="282.2" x2="404.9" y2="284" stroke="#dc8e7e" stroke-width="0.8"/>
<line x1="406.5" y1="282.2" x2="406.5" y2="284" stroke="#dc8e7e" stroke-width="0.8"/>
<line x1="408.3" y1="282.2" x2="408.3" y2="284" stroke="#dc8e7e" stroke-width="0.8"/>
<line x1="418.4" y1="282.2" x2="418.4" y2="284" stroke="#dc8e7e" stroke-width="0.8"/>
<line x1="420.3" y1="282.2" x2="420.3" y2="284" stroke="#dc8e7e" stroke-width="0.8"/>
<line x1="433.3" y1="282.2" x2="433.3" y2="284" stroke="#dc8e7e" stroke-width="0.8"/>
<line x1="440.2" y1="282.2" x2="440.2" y2="284" stroke="#dc8e7e" stroke-width="0.8"/>
<line x1="455.6" y1="282.2" x2="455.6" y2="284" stroke="#dc8e7e" stroke-width="0.8"/>
<line x1="464.2" y1="282.2" x2="464.2" y2="284" stroke="#dc8e7e" stroke-width="0.8"/>
<line x1="469.6" y1="282.2" x2="469.6" y2="284" stroke="#dc8e7e" stroke-width="0.8"/>
<line x1="478.3" y1="282.2" x2="478.3" y2="284" stroke="#dc8e7e" stroke-width="0.8"/>
<line x1="485.2" y1="278" x2="493.6" y2="278" stroke="#4a1a6c" stroke-width="1.7"/>
<line x1="489.4" y1="278" x2="489.4" y2="275.9" stroke="#4a1a6c" stroke-width="0.9"/>
<line x1="485.2" y1="287.4" x2="493.6" y2="287.4" stroke="#dc8e7e" stroke-width="1.5"/>
<line x1="489.4" y1="287.4" x2="489.4" y2="285.4" stroke="#dc8e7e" stroke-width="0.9"/>
<text x="496.9" y="278.7" font-size="6.8" fill="#231f20" stroke="#231f20" stroke-width="0.2" textLength="9.8" lengthAdjust="spacingAndGlyphs">ALL</text>
<text x="496.9" y="288.6" font-size="6.8" fill="#231f20" stroke="#231f20" stroke-width="0.2" textLength="7.6" lengthAdjust="spacingAndGlyphs">CR</text>
<text x="8.2" y="435" font-size="6.1" fill="#231f20" stroke="#231f20" stroke-width="0.15" textLength="27.3" lengthAdjust="spacingAndGlyphs">No. at risk</text>
<text x="56" y="435.05" font-size="6.3" fill="#231f20" stroke="#231f20" stroke-width="0.15" text-anchor="middle" textLength="6.4" lengthAdjust="spacingAndGlyphs">28</text>
<text x="71.48" y="435.05" font-size="6.3" fill="#231f20" stroke="#231f20" stroke-width="0.15" text-anchor="middle" textLength="6.4" lengthAdjust="spacingAndGlyphs">24</text>
<text x="86.96" y="435.05" font-size="6.3" fill="#231f20" stroke="#231f20" stroke-width="0.15" text-anchor="middle" textLength="6.4" lengthAdjust="spacingAndGlyphs">21</text>
<text x="102.44" y="435.05" font-size="6.3" fill="#231f20" stroke="#231f20" stroke-width="0.15" text-anchor="middle" textLength="6.4" lengthAdjust="spacingAndGlyphs">19</text>
<text x="117.92" y="435.05" font-size="6.3" fill="#231f20" stroke="#231f20" stroke-width="0.15" text-anchor="middle" textLength="6.4" lengthAdjust="spacingAndGlyphs">17</text>
<text x="133.4" y="435.05" font-size="6.3" fill="#231f20" stroke="#231f20" stroke-width="0.15" text-anchor="middle" textLength="6.4" lengthAdjust="spacingAndGlyphs">17</text>
<text x="148.88" y="435.05" font-size="6.3" fill="#231f20" stroke="#231f20" stroke-width="0.15" text-anchor="middle" textLength="6.4" lengthAdjust="spacingAndGlyphs">15</text>
<text x="164.36" y="435.05" font-size="6.3" fill="#231f20" stroke="#231f20" stroke-width="0.15" text-anchor="middle" textLength="3.3" lengthAdjust="spacingAndGlyphs">7</text>
<text x="179.84" y="435.05" font-size="6.3" fill="#231f20" stroke="#231f20" stroke-width="0.15" text-anchor="middle" textLength="3.3" lengthAdjust="spacingAndGlyphs">6</text>
<text x="195.32" y="435.05" font-size="6.3" fill="#231f20" stroke="#231f20" stroke-width="0.15" text-anchor="middle" textLength="3.3" lengthAdjust="spacingAndGlyphs">4</text>
<text x="210.8" y="435.05" font-size="6.3" fill="#231f20" stroke="#231f20" stroke-width="0.15" text-anchor="middle" textLength="3.3" lengthAdjust="spacingAndGlyphs">3</text>
<text x="226.28" y="435.05" font-size="6.3" fill="#231f20" stroke="#231f20" stroke-width="0.15" text-anchor="middle" textLength="3.3" lengthAdjust="spacingAndGlyphs">1</text>
<text x="8.2" y="445" font-size="6.1" fill="#231f20" stroke="#231f20" stroke-width="0.15" textLength="41" lengthAdjust="spacingAndGlyphs">No of censored</text>
<text x="56" y="445.05" font-size="6.3" fill="#231f20" stroke="#231f20" stroke-width="0.15" text-anchor="middle" textLength="3.3" lengthAdjust="spacingAndGlyphs">0</text>
<text x="71.48" y="445.05" font-size="6.3" fill="#231f20" stroke="#231f20" stroke-width="0.15" text-anchor="middle" textLength="3.3" lengthAdjust="spacingAndGlyphs">0</text>
<text x="86.96" y="445.05" font-size="6.3" fill="#231f20" stroke="#231f20" stroke-width="0.15" text-anchor="middle" textLength="3.3" lengthAdjust="spacingAndGlyphs">1</text>
<text x="102.44" y="445.05" font-size="6.3" fill="#231f20" stroke="#231f20" stroke-width="0.15" text-anchor="middle" textLength="3.3" lengthAdjust="spacingAndGlyphs">1</text>
<text x="117.92" y="445.05" font-size="6.3" fill="#231f20" stroke="#231f20" stroke-width="0.15" text-anchor="middle" textLength="3.3" lengthAdjust="spacingAndGlyphs">1</text>
<text x="133.4" y="445.05" font-size="6.3" fill="#231f20" stroke="#231f20" stroke-width="0.15" text-anchor="middle" textLength="3.3" lengthAdjust="spacingAndGlyphs">1</text>
<text x="148.88" y="445.05" font-size="6.3" fill="#231f20" stroke="#231f20" stroke-width="0.15" text-anchor="middle" textLength="3.3" lengthAdjust="spacingAndGlyphs">2</text>
<text x="164.36" y="445.05" font-size="6.3" fill="#231f20" stroke="#231f20" stroke-width="0.15" text-anchor="middle" textLength="3.3" lengthAdjust="spacingAndGlyphs">9</text>
<text x="179.84" y="445.05" font-size="6.3" fill="#231f20" stroke="#231f20" stroke-width="0.15" text-anchor="middle" textLength="6.4" lengthAdjust="spacingAndGlyphs">10</text>
<text x="195.32" y="445.05" font-size="6.3" fill="#231f20" stroke="#231f20" stroke-width="0.15" text-anchor="middle" textLength="6.4" lengthAdjust="spacingAndGlyphs">12</text>
<text x="210.8" y="445.05" font-size="6.3" fill="#231f20" stroke="#231f20" stroke-width="0.15" text-anchor="middle" textLength="6.4" lengthAdjust="spacingAndGlyphs">13</text>
<text x="226.28" y="445.05" font-size="6.3" fill="#231f20" stroke="#231f20" stroke-width="0.15" text-anchor="middle" textLength="6.4" lengthAdjust="spacingAndGlyphs">15</text>
<text x="8.2" y="454.9" font-size="6.1" fill="#231f20" stroke="#231f20" stroke-width="0.15" textLength="27.3" lengthAdjust="spacingAndGlyphs">No. at risk</text>
<text x="56" y="454.95" font-size="6.3" fill="#231f20" stroke="#231f20" stroke-width="0.15" text-anchor="middle" textLength="6.4" lengthAdjust="spacingAndGlyphs">20</text>
<text x="71.48" y="454.95" font-size="6.3" fill="#231f20" stroke="#231f20" stroke-width="0.15" text-anchor="middle" textLength="6.4" lengthAdjust="spacingAndGlyphs">20</text>
<text x="86.96" y="454.95" font-size="6.3" fill="#231f20" stroke="#231f20" stroke-width="0.15" text-anchor="middle" textLength="6.4" lengthAdjust="spacingAndGlyphs">20</text>
<text x="102.44" y="454.95" font-size="6.3" fill="#231f20" stroke="#231f20" stroke-width="0.15" text-anchor="middle" textLength="6.4" lengthAdjust="spacingAndGlyphs">19</text>
<text x="117.92" y="454.95" font-size="6.3" fill="#231f20" stroke="#231f20" stroke-width="0.15" text-anchor="middle" textLength="6.4" lengthAdjust="spacingAndGlyphs">17</text>
<text x="133.4" y="454.95" font-size="6.3" fill="#231f20" stroke="#231f20" stroke-width="0.15" text-anchor="middle" textLength="6.4" lengthAdjust="spacingAndGlyphs">17</text>
<text x="148.88" y="454.95" font-size="6.3" fill="#231f20" stroke="#231f20" stroke-width="0.15" text-anchor="middle" textLength="6.4" lengthAdjust="spacingAndGlyphs">15</text>
<text x="164.36" y="454.95" font-size="6.3" fill="#231f20" stroke="#231f20" stroke-width="0.15" text-anchor="middle" textLength="3.3" lengthAdjust="spacingAndGlyphs">7</text>
<text x="179.84" y="454.95" font-size="6.3" fill="#231f20" stroke="#231f20" stroke-width="0.15" text-anchor="middle" textLength="3.3" lengthAdjust="spacingAndGlyphs">6</text>
<text x="195.32" y="454.95" font-size="6.3" fill="#231f20" stroke="#231f20" stroke-width="0.15" text-anchor="middle" textLength="3.3" lengthAdjust="spacingAndGlyphs">4</text>
<text x="210.8" y="454.95" font-size="6.3" fill="#231f20" stroke="#231f20" stroke-width="0.15" text-anchor="middle" textLength="3.3" lengthAdjust="spacingAndGlyphs">3</text>
<text x="226.28" y="454.95" font-size="6.3" fill="#231f20" stroke="#231f20" stroke-width="0.15" text-anchor="middle" textLength="3.3" lengthAdjust="spacingAndGlyphs">1</text>
<text x="8.2" y="464.5" font-size="6.1" fill="#231f20" stroke="#231f20" stroke-width="0.15" textLength="41" lengthAdjust="spacingAndGlyphs">No of censored</text>
<text x="56" y="464.55" font-size="6.3" fill="#231f20" stroke="#231f20" stroke-width="0.15" text-anchor="middle" textLength="3.3" lengthAdjust="spacingAndGlyphs">0</text>
<text x="71.48" y="464.55" font-size="6.3" fill="#231f20" stroke="#231f20" stroke-width="0.15" text-anchor="middle" textLength="3.3" lengthAdjust="spacingAndGlyphs">0</text>
<text x="86.96" y="464.55" font-size="6.3" fill="#231f20" stroke="#231f20" stroke-width="0.15" text-anchor="middle" textLength="3.3" lengthAdjust="spacingAndGlyphs">0</text>
<text x="102.44" y="464.55" font-size="6.3" fill="#231f20" stroke="#231f20" stroke-width="0.15" text-anchor="middle" textLength="3.3" lengthAdjust="spacingAndGlyphs">0</text>
<text x="117.92" y="464.55" font-size="6.3" fill="#231f20" stroke="#231f20" stroke-width="0.15" text-anchor="middle" textLength="3.3" lengthAdjust="spacingAndGlyphs">0</text>
<text x="133.4" y="464.55" font-size="6.3" fill="#231f20" stroke="#231f20" stroke-width="0.15" text-anchor="middle" textLength="3.3" lengthAdjust="spacingAndGlyphs">0</text>
<text x="148.88" y="464.55" font-size="6.3" fill="#231f20" stroke="#231f20" stroke-width="0.15" text-anchor="middle" textLength="3.3" lengthAdjust="spacingAndGlyphs">1</text>
<text x="164.36" y="464.55" font-size="6.3" fill="#231f20" stroke="#231f20" stroke-width="0.15" text-anchor="middle" textLength="3.3" lengthAdjust="spacingAndGlyphs">8</text>
<text x="179.84" y="464.55" font-size="6.3" fill="#231f20" stroke="#231f20" stroke-width="0.15" text-anchor="middle" textLength="3.3" lengthAdjust="spacingAndGlyphs">9</text>
<text x="195.32" y="464.55" font-size="6.3" fill="#231f20" stroke="#231f20" stroke-width="0.15" text-anchor="middle" textLength="6.4" lengthAdjust="spacingAndGlyphs">11</text>
<text x="210.8" y="464.55" font-size="6.3" fill="#231f20" stroke="#231f20" stroke-width="0.15" text-anchor="middle" textLength="6.4" lengthAdjust="spacingAndGlyphs">12</text>
<text x="226.28" y="464.55" font-size="6.3" fill="#231f20" stroke="#231f20" stroke-width="0.15" text-anchor="middle" textLength="6.4" lengthAdjust="spacingAndGlyphs">14</text>
<text x="233.9" y="440.6" font-size="6.6" fill="#231f20" stroke="#231f20" stroke-width="0.15" textLength="10" lengthAdjust="spacingAndGlyphs">ALL</text>
<text x="233.9" y="460" font-size="6.6" fill="#231f20" stroke="#231f20" stroke-width="0.15" textLength="7.8" lengthAdjust="spacingAndGlyphs">CR</text>
<text x="260.4" y="435" font-size="6.1" fill="#231f20" stroke="#231f20" stroke-width="0.15" textLength="27.3" lengthAdjust="spacingAndGlyphs">No. at risk</text>
<text x="308.3" y="435.05" font-size="6.3" fill="#231f20" stroke="#231f20" stroke-width="0.15" text-anchor="middle" textLength="6.4" lengthAdjust="spacingAndGlyphs">28</text>
<text x="323.73" y="435.05" font-size="6.3" fill="#231f20" stroke="#231f20" stroke-width="0.15" text-anchor="middle" textLength="6.4" lengthAdjust="spacingAndGlyphs">26</text>
<text x="339.16" y="435.05" font-size="6.3" fill="#231f20" stroke="#231f20" stroke-width="0.15" text-anchor="middle" textLength="6.4" lengthAdjust="spacingAndGlyphs">23</text>
<text x="354.59" y="435.05" font-size="6.3" fill="#231f20" stroke="#231f20" stroke-width="0.15" text-anchor="middle" textLength="6.4" lengthAdjust="spacingAndGlyphs">22</text>
<text x="370.02" y="435.05" font-size="6.3" fill="#231f20" stroke="#231f20" stroke-width="0.15" text-anchor="middle" textLength="6.4" lengthAdjust="spacingAndGlyphs">20</text>
<text x="385.45" y="435.05" font-size="6.3" fill="#231f20" stroke="#231f20" stroke-width="0.15" text-anchor="middle" textLength="6.4" lengthAdjust="spacingAndGlyphs">20</text>
<text x="400.88" y="435.05" font-size="6.3" fill="#231f20" stroke="#231f20" stroke-width="0.15" text-anchor="middle" textLength="6.4" lengthAdjust="spacingAndGlyphs">19</text>
<text x="416.31" y="435.05" font-size="6.3" fill="#231f20" stroke="#231f20" stroke-width="0.15" text-anchor="middle" textLength="6.4" lengthAdjust="spacingAndGlyphs">10</text>
<text x="431.74" y="435.05" font-size="6.3" fill="#231f20" stroke="#231f20" stroke-width="0.15" text-anchor="middle" textLength="3.3" lengthAdjust="spacingAndGlyphs">7</text>
<text x="447.17" y="435.05" font-size="6.3" fill="#231f20" stroke="#231f20" stroke-width="0.15" text-anchor="middle" textLength="3.3" lengthAdjust="spacingAndGlyphs">4</text>
<text x="462.6" y="435.05" font-size="6.3" fill="#231f20" stroke="#231f20" stroke-width="0.15" text-anchor="middle" textLength="3.3" lengthAdjust="spacingAndGlyphs">3</text>
<text x="478.03" y="435.05" font-size="6.3" fill="#231f20" stroke="#231f20" stroke-width="0.15" text-anchor="middle" textLength="3.3" lengthAdjust="spacingAndGlyphs">1</text>
<text x="260.4" y="445" font-size="6.1" fill="#231f20" stroke="#231f20" stroke-width="0.15" textLength="41" lengthAdjust="spacingAndGlyphs">No of censored</text>
<text x="308.3" y="445.05" font-size="6.3" fill="#231f20" stroke="#231f20" stroke-width="0.15" text-anchor="middle" textLength="3.3" lengthAdjust="spacingAndGlyphs">0</text>
<text x="323.73" y="445.05" font-size="6.3" fill="#231f20" stroke="#231f20" stroke-width="0.15" text-anchor="middle" textLength="3.3" lengthAdjust="spacingAndGlyphs">0</text>
<text x="339.16" y="445.05" font-size="6.3" fill="#231f20" stroke="#231f20" stroke-width="0.15" text-anchor="middle" textLength="3.3" lengthAdjust="spacingAndGlyphs">0</text>
<text x="354.59" y="445.05" font-size="6.3" fill="#231f20" stroke="#231f20" stroke-width="0.15" text-anchor="middle" textLength="3.3" lengthAdjust="spacingAndGlyphs">0</text>
<text x="370.02" y="445.05" font-size="6.3" fill="#231f20" stroke="#231f20" stroke-width="0.15" text-anchor="middle" textLength="3.3" lengthAdjust="spacingAndGlyphs">0</text>
<text x="385.45" y="445.05" font-size="6.3" fill="#231f20" stroke="#231f20" stroke-width="0.15" text-anchor="middle" textLength="3.3" lengthAdjust="spacingAndGlyphs">0</text>
<text x="400.88" y="445.05" font-size="6.3" fill="#231f20" stroke="#231f20" stroke-width="0.15" text-anchor="middle" textLength="3.3" lengthAdjust="spacingAndGlyphs">1</text>
<text x="416.31" y="445.05" font-size="6.3" fill="#231f20" stroke="#231f20" stroke-width="0.15" text-anchor="middle" textLength="6.4" lengthAdjust="spacingAndGlyphs">10</text>
<text x="431.74" y="445.05" font-size="6.3" fill="#231f20" stroke="#231f20" stroke-width="0.15" text-anchor="middle" textLength="6.4" lengthAdjust="spacingAndGlyphs">13</text>
<text x="447.17" y="445.05" font-size="6.3" fill="#231f20" stroke="#231f20" stroke-width="0.15" text-anchor="middle" textLength="6.4" lengthAdjust="spacingAndGlyphs">16</text>
<text x="462.6" y="445.05" font-size="6.3" fill="#231f20" stroke="#231f20" stroke-width="0.15" text-anchor="middle" textLength="6.4" lengthAdjust="spacingAndGlyphs">17</text>
<text x="478.03" y="445.05" font-size="6.3" fill="#231f20" stroke="#231f20" stroke-width="0.15" text-anchor="middle" textLength="6.4" lengthAdjust="spacingAndGlyphs">19</text>
<text x="260.4" y="454.9" font-size="6.1" fill="#231f20" stroke="#231f20" stroke-width="0.15" textLength="27.3" lengthAdjust="spacingAndGlyphs">No. at risk</text>
<text x="308.3" y="454.95" font-size="6.3" fill="#231f20" stroke="#231f20" stroke-width="0.15" text-anchor="middle" textLength="6.4" lengthAdjust="spacingAndGlyphs">20</text>
<text x="323.73" y="454.95" font-size="6.3" fill="#231f20" stroke="#231f20" stroke-width="0.15" text-anchor="middle" textLength="6.4" lengthAdjust="spacingAndGlyphs">20</text>
<text x="339.16" y="454.95" font-size="6.3" fill="#231f20" stroke="#231f20" stroke-width="0.15" text-anchor="middle" textLength="6.4" lengthAdjust="spacingAndGlyphs">20</text>
<text x="354.59" y="454.95" font-size="6.3" fill="#231f20" stroke="#231f20" stroke-width="0.15" text-anchor="middle" textLength="6.4" lengthAdjust="spacingAndGlyphs">20</text>
<text x="370.02" y="454.95" font-size="6.3" fill="#231f20" stroke="#231f20" stroke-width="0.15" text-anchor="middle" textLength="6.4" lengthAdjust="spacingAndGlyphs">18</text>
<text x="385.45" y="454.95" font-size="6.3" fill="#231f20" stroke="#231f20" stroke-width="0.15" text-anchor="middle" textLength="6.4" lengthAdjust="spacingAndGlyphs">18</text>
<text x="400.88" y="454.95" font-size="6.3" fill="#231f20" stroke="#231f20" stroke-width="0.15" text-anchor="middle" textLength="6.4" lengthAdjust="spacingAndGlyphs">17</text>
<text x="416.31" y="454.95" font-size="6.3" fill="#231f20" stroke="#231f20" stroke-width="0.15" text-anchor="middle" textLength="3.3" lengthAdjust="spacingAndGlyphs">9</text>
<text x="431.74" y="454.95" font-size="6.3" fill="#231f20" stroke="#231f20" stroke-width="0.15" text-anchor="middle" textLength="3.3" lengthAdjust="spacingAndGlyphs">7</text>
<text x="447.17" y="454.95" font-size="6.3" fill="#231f20" stroke="#231f20" stroke-width="0.15" text-anchor="middle" textLength="3.3" lengthAdjust="spacingAndGlyphs">4</text>
<text x="462.6" y="454.95" font-size="6.3" fill="#231f20" stroke="#231f20" stroke-width="0.15" text-anchor="middle" textLength="3.3" lengthAdjust="spacingAndGlyphs">3</text>
<text x="478.03" y="454.95" font-size="6.3" fill="#231f20" stroke="#231f20" stroke-width="0.15" text-anchor="middle" textLength="3.3" lengthAdjust="spacingAndGlyphs">1</text>
<text x="260.4" y="464.5" font-size="6.1" fill="#231f20" stroke="#231f20" stroke-width="0.15" textLength="41" lengthAdjust="spacingAndGlyphs">No of censored</text>
<text x="308.3" y="464.55" font-size="6.3" fill="#231f20" stroke="#231f20" stroke-width="0.15" text-anchor="middle" textLength="3.3" lengthAdjust="spacingAndGlyphs">0</text>
<text x="323.73" y="464.55" font-size="6.3" fill="#231f20" stroke="#231f20" stroke-width="0.15" text-anchor="middle" textLength="3.3" lengthAdjust="spacingAndGlyphs">0</text>
<text x="339.16" y="464.55" font-size="6.3" fill="#231f20" stroke="#231f20" stroke-width="0.15" text-anchor="middle" textLength="3.3" lengthAdjust="spacingAndGlyphs">0</text>
<text x="354.59" y="464.55" font-size="6.3" fill="#231f20" stroke="#231f20" stroke-width="0.15" text-anchor="middle" textLength="3.3" lengthAdjust="spacingAndGlyphs">0</text>
<text x="370.02" y="464.55" font-size="6.3" fill="#231f20" stroke="#231f20" stroke-width="0.15" text-anchor="middle" textLength="3.3" lengthAdjust="spacingAndGlyphs">0</text>
<text x="385.45" y="464.55" font-size="6.3" fill="#231f20" stroke="#231f20" stroke-width="0.15" text-anchor="middle" textLength="3.3" lengthAdjust="spacingAndGlyphs">0</text>
<text x="400.88" y="464.55" font-size="6.3" fill="#231f20" stroke="#231f20" stroke-width="0.15" text-anchor="middle" textLength="3.3" lengthAdjust="spacingAndGlyphs">1</text>
<text x="416.31" y="464.55" font-size="6.3" fill="#231f20" stroke="#231f20" stroke-width="0.15" text-anchor="middle" textLength="3.3" lengthAdjust="spacingAndGlyphs">9</text>
<text x="431.74" y="464.55" font-size="6.3" fill="#231f20" stroke="#231f20" stroke-width="0.15" text-anchor="middle" textLength="6.4" lengthAdjust="spacingAndGlyphs">11</text>
<text x="447.17" y="464.55" font-size="6.3" fill="#231f20" stroke="#231f20" stroke-width="0.15" text-anchor="middle" textLength="6.4" lengthAdjust="spacingAndGlyphs">14</text>
<text x="462.6" y="464.55" font-size="6.3" fill="#231f20" stroke="#231f20" stroke-width="0.15" text-anchor="middle" textLength="6.4" lengthAdjust="spacingAndGlyphs">15</text>
<text x="478.03" y="464.55" font-size="6.3" fill="#231f20" stroke="#231f20" stroke-width="0.15" text-anchor="middle" textLength="6.4" lengthAdjust="spacingAndGlyphs">17</text>
<text x="485.5" y="440.6" font-size="6.6" fill="#231f20" stroke="#231f20" stroke-width="0.15" textLength="10" lengthAdjust="spacingAndGlyphs">ALL</text>
<text x="485.5" y="460" font-size="6.6" fill="#231f20" stroke="#231f20" stroke-width="0.15" textLength="7.8" lengthAdjust="spacingAndGlyphs">CR</text>
<rect x="0" y="0" width="520" height="1.1" fill="#000"/>
<rect x="0" y="0" width="1.2" height="472" fill="#000"/>
<rect x="518.6" y="0" width="1.4" height="472" fill="#000"/>
<rect x="0" y="470" width="520" height="2" fill="#000"/>
</svg>
</body></html>
